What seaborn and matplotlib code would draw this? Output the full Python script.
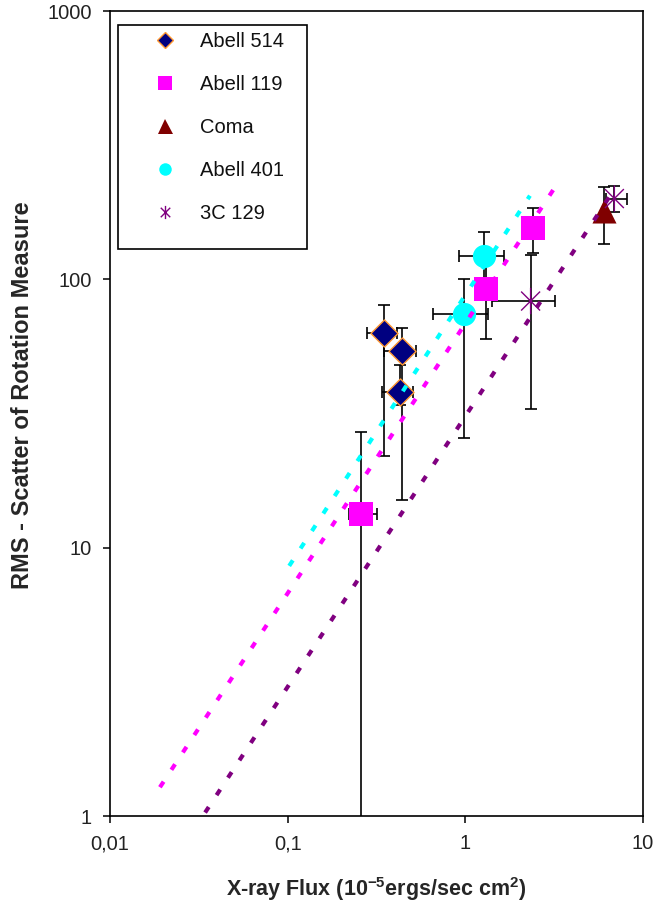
import numpy as np
import matplotlib
matplotlib.use("Agg")
import matplotlib.pyplot as plt
import seaborn as sns
from matplotlib.path import Path
from matplotlib.lines import Line2D
from matplotlib.patches import Rectangle
from matplotlib.ticker import FixedLocator, FixedFormatter, NullLocator

# ---------------- data ----------------
series_names = ["Abell 514", "Abell 119", "Coma", "Abell 401", "3C 129"]

a514_x = [0.35, 0.44, 0.43]
a514_y = [63, 54, 38]
a514_xlo = [0.28, 0.35, 0.34]
a514_xhi = [0.41, 0.53, 0.51]
a514_ylo = [22, 15, 34]
a514_yhi = [80, 66, 48]

a119_x = [0.26, 1.31, 2.4]
a119_y = [13.3, 92, 155]
a119_xlo = [0.22, 1.31, 2.4]
a119_xhi = [0.32, 1.31, 2.4]
a119_ylo = [0.5, 60, 125]
a119_yhi = [27, 120, 185]

coma_x = [6.0]
coma_y = [179]
coma_xlo = [6.0]
coma_xhi = [6.0]
coma_ylo = [136]
coma_yhi = [220]

a401_x = [0.98, 1.27]
a401_y = [74, 122]
a401_xlo = [0.66, 0.92]
a401_xhi = [1.35, 1.64]
a401_ylo = [25.7, 100]
a401_yhi = [100, 150]

c3c129_x = [2.33, 6.9]
c3c129_y = [83, 200]
c3c129_xlo = [1.42, 6.2]
c3c129_xhi = [3.2, 8.1]
c3c129_ylo = [33, 178]
c3c129_yhi = [123, 222]

# trend lines (end points)
trend_a401_x = [0.102, 2.31]
trend_a401_y = [8.55, 205]
trend_a119_x = [0.0191, 3.32]
trend_a119_y = [1.28, 229]
trend_3c129_x = [0.0343, 6.69]
trend_3c129_y = [1.03, 210]

x_ticks = [0.01, 0.1, 1, 10]
x_tick_labels = ["0,01", "0,1", "1", "10"]
y_ticks = [1, 10, 100, 1000]
y_tick_labels = ["1", "10", "100", "1000"]

x_label = "X-ray Flux (10$^{-5}$ergs/sec cm$^{2}$)"
y_label = "RMS - Scatter of Rotation Measure"

# ---------------- style ----------------
sns.set_theme(style="white")
plt.rcParams["font.family"] = ["Liberation Sans", "DejaVu Sans"]
plt.rcParams["mathtext.fontset"] = "custom"
plt.rcParams["mathtext.rm"] = "Liberation Sans:bold"
plt.rcParams["mathtext.it"] = "Liberation Sans:bold"
plt.rcParams["mathtext.bf"] = "Liberation Sans:bold"

c_navy = "#000080"
c_orange = "#FF9933"
c_magenta = "#FF00FF"
c_darkred = "#800000"
c_cyan = "#00FFFF"
c_purple = "#800080"

star = Path(
    [(0, -1), (0, 1), (-0.72, -0.72), (0.72, 0.72), (-0.72, 0.72), (0.72, -0.72)],
    [Path.MOVETO, Path.LINETO, Path.MOVETO, Path.LINETO, Path.MOVETO, Path.LINETO],
)

fig = plt.figure(figsize=(6.68, 9.05), dpi=100)
ax = fig.add_axes([110 / 668, 1 - 816 / 905, (643 - 110) / 668, (816 - 11) / 905])
ax.set_xscale("log")
ax.set_yscale("log")
ax.set_xlim(0.01, 10)
ax.set_ylim(1, 1000)


def errbars(xs, ys, xlo, xhi, ylo, yhi):
    xs = np.array(xs, float); ys = np.array(ys, float)
    xerr = [xs - np.array(xlo), np.array(xhi) - xs]
    yerr = [ys - np.array(ylo), np.array(yhi) - ys]
    ax.errorbar(xs, ys, xerr=xerr, yerr=yerr, fmt="none", ecolor="black",
                elinewidth=1.2, capsize=4.5, capthick=1.2, zorder=2)


errbars(a514_x, a514_y, a514_xlo, a514_xhi, a514_ylo, a514_yhi)
errbars(a119_x, a119_y, a119_xlo, a119_xhi, a119_ylo, a119_yhi)
errbars(coma_x, coma_y, coma_xlo, coma_xhi, coma_ylo, coma_yhi)
errbars(a401_x, a401_y, a401_xlo, a401_xhi, a401_ylo, a401_yhi)
errbars(c3c129_x, c3c129_y, c3c129_xlo, c3c129_xhi, c3c129_ylo, c3c129_yhi)

sns.scatterplot(x=a514_x, y=a514_y, marker="D", s=190, color=c_navy,
                edgecolor=c_orange, linewidth=1.0, ax=ax, zorder=3)
sns.scatterplot(x=a119_x, y=a119_y, marker="s", s=280, color=c_magenta,
                edgecolor=c_magenta, linewidth=0, ax=ax, zorder=3)
sns.scatterplot(x=coma_x, y=coma_y, marker="^", s=300, color=c_darkred,
                edgecolor=c_darkred, linewidth=0, ax=ax, zorder=3)
sns.scatterplot(x=a401_x, y=a401_y, marker="o", s=280, color=c_cyan,
                edgecolor=c_cyan, linewidth=0, ax=ax, zorder=3)
ax.scatter(c3c129_x, c3c129_y, marker=star, s=360, facecolor="none",
           edgecolor=c_purple, linewidth=1.0, zorder=3)

dots = (0, (1.6, 3.4))
for tx, ty, col in [(trend_a401_x, trend_a401_y, c_cyan),
                    (trend_a119_x, trend_a119_y, c_magenta),
                    (trend_3c129_x, trend_3c129_y, c_purple)]:
    sns.lineplot(x=tx, y=ty, color=col, linewidth=3.0, linestyle=dots,
                 ax=ax, zorder=4, legend=False, estimator=None, sort=False)
for l in ax.lines:
    l.set_dash_capstyle("butt")

# ---------------- axes styling ----------------
for sp in ax.spines.values():
    sp.set_visible(True)
    sp.set_color("black")
    sp.set_linewidth(1.2)
ax.xaxis.set_major_locator(FixedLocator(x_ticks))
ax.xaxis.set_major_formatter(FixedFormatter(x_tick_labels))
ax.yaxis.set_major_locator(FixedLocator(y_ticks))
ax.yaxis.set_major_formatter(FixedFormatter(y_tick_labels))
ax.xaxis.set_minor_locator(NullLocator())
ax.yaxis.set_minor_locator(NullLocator())
ax.tick_params(axis="both", which="major", direction="out", length=5,
               width=1.1, color="black", labelsize=14.5, labelcolor="#222222")
ax.tick_params(axis="x", pad=8, bottom=True)
ax.tick_params(axis="y", pad=8, left=True)
ax.grid(False)

ax.set_xlabel(x_label, fontsize=15.5, fontweight="bold")
ax.set_ylabel(y_label, fontsize=17, fontweight="bold")
ax.xaxis.set_label_coords(0.5, -0.073)
ax.yaxis.set_label_coords(-0.142, (816 - 395) / 805)

# ---------------- legend ----------------
ax.add_patch(Rectangle((8 / 533, (816 - 249) / 805), (307 - 118) / 533, (249 - 25) / 805,
                       transform=ax.transAxes, fill=False, edgecolor="black",
                       linewidth=1.2, zorder=5))
handles = [
    Line2D([], [], marker="D", linestyle="none", markersize=8, color=c_navy,
           markeredgecolor=c_orange, markeredgewidth=1.0),
    Line2D([], [], marker="s", linestyle="none", markersize=9.4, color=c_magenta,
           markeredgewidth=0),
    Line2D([], [], marker="^", linestyle="none", markersize=10.8, color=c_darkred,
           markeredgewidth=0),
    Line2D([], [], marker="o", linestyle="none", markersize=9, color=c_cyan,
           markeredgewidth=0),
    Line2D([], [], marker=star, linestyle="none", markersize=9.5, color=c_purple,
           markerfacecolor="none", markeredgecolor=c_purple, markeredgewidth=1.0),
]
leg = ax.legend(handles, series_names, loc="upper left",
                bbox_to_anchor=((153 - 110) / 533, (816 - 32) / 805),
                frameon=False, fontsize=14.5, handlelength=1.2,
                handletextpad=1.14, labelspacing=1.19, borderpad=0,
                borderaxespad=0)
for t in leg.get_texts():
    t.set_color("#111111")

fig.savefig("out.png", dpi=100, facecolor="white")
